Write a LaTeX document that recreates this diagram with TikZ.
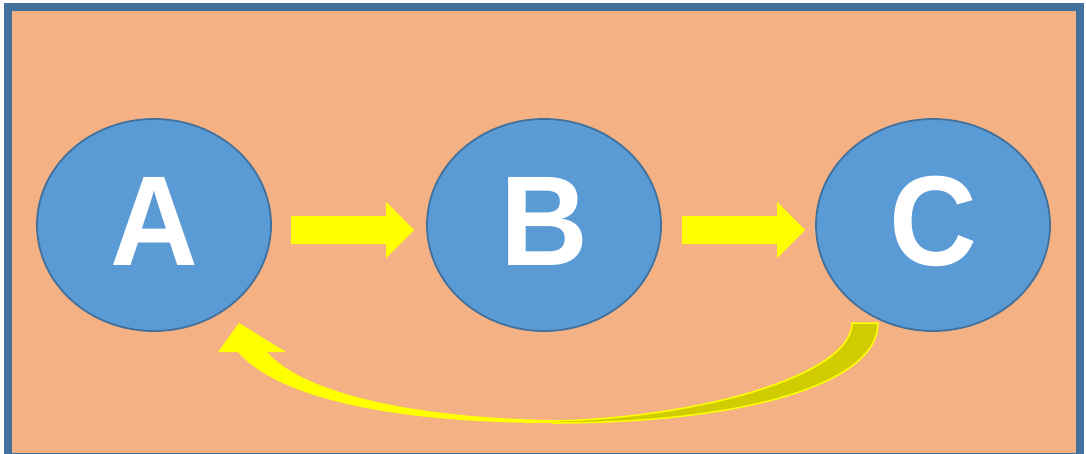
\documentclass[tikz,border=0pt]{standalone}
\usepackage{fontspec}
\setmainfont{Liberation Sans}
\definecolor{bg}{HTML}{F4B183}
\definecolor{frame}{HTML}{41719C}
\definecolor{ell}{HTML}{5B9BD5}
\definecolor{ylw}{HTML}{FFFF00}
\definecolor{olive}{HTML}{D0CC00}
\tikzset{
  circ/.style={draw=frame, line width=1.8pt, fill=ell, ellipse, minimum width=234pt, minimum height=212pt, inner sep=0pt},
  letter/.style={text=white, font=\fontsize{128}{128}\selectfont\bfseries, inner sep=0pt, xscale=0.95},
  yarrow/.style={fill=ylw, draw=none},
}
\usetikzlibrary{shapes.geometric}
\begin{document}
\begin{tikzpicture}[x=1pt,y=-1pt]
\useasboundingbox (0,0) rectangle (1086,453);
\fill[bg] (8,7) rectangle (1080,453);
\draw[frame, line width=8pt] (8,7) rectangle (1080,457);
% ellipses
\node[circ] (A) at (154,225) {};
\node[circ] (B) at (544,225) {};
\node[circ] (C) at (933,225) {};
\node[letter] (tA) at (154,221) {A};
\node[letter] (tB) at (544,221) {B};
\node[letter] (tC) at (933,221) {C};
% straight arrows
\fill[yarrow] (291,216) -- (386,216) -- (386,202) -- (414,230) -- (386,258) -- (386,244) -- (291,244) -- cycle;
\fill[yarrow] (682,216) -- (777,216) -- (777,202) -- (805,230) -- (777,258) -- (777,244) -- (682,244) -- cycle;
% curved arrow: back band
\draw[ylw, line width=1.5pt, fill=olive, line join=miter]
  (852,323) -- (878,323) .. controls (878,385) and (740,423) .. (553,423)
  -- (553,421) .. controls (700,418) and (852,375) .. (852,323) -- cycle;
% curved arrow: front
\fill[yarrow]
  (553,423) .. controls (400,423) and (280,400) .. (238,352)
  -- (218,352) -- (239,323) -- (286,352) -- (267,352)
  .. controls (305,395) and (420,418) .. (553,420) -- cycle;
\end{tikzpicture}
\end{document}
